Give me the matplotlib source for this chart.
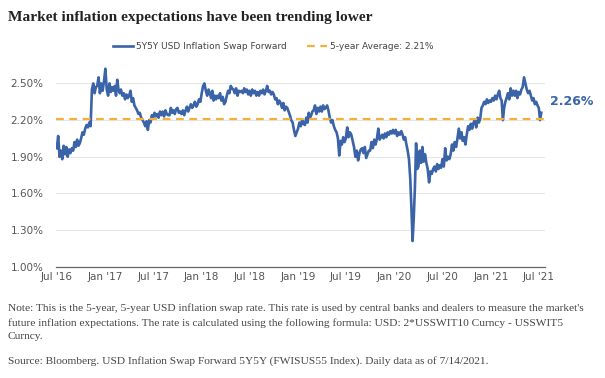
import numpy as np
import pandas as pd
import matplotlib
matplotlib.use("Agg")
import matplotlib.pyplot as plt
import matplotlib.dates as mdates

# monthly readings of the 5Y5Y swap forward (%), several points per month
months = pd.date_range("2016-07-01", "2021-07-01", freq="MS")
vals = [
    [1.97, 2.07, 1.90, 1.95, 1.88, 1.99],          # Jul 16
    [1.92, 1.98, 1.90, 1.96, 1.93, 1.97],
    [1.95, 2.02, 1.98, 2.04, 1.99, 2.01],
    [2.05, 2.10, 2.08, 2.13, 2.16, 2.14],
    [2.18, 2.15, 2.45, 2.50, 2.42, 2.47],
    [2.48, 2.55, 2.42, 2.50, 2.44, 2.52],
    [2.62, 2.45, 2.40, 2.50, 2.43, 2.47],          # Jan 17
    [2.44, 2.48, 2.40, 2.53, 2.45, 2.42],
    [2.45, 2.40, 2.42, 2.37, 2.41, 2.38],
    [2.40, 2.44, 2.35, 2.38, 2.32, 2.30],
    [2.28, 2.25, 2.26, 2.22, 2.20, 2.18],
    [2.15, 2.19, 2.12, 2.20, 2.18, 2.24],
    [2.22, 2.26, 2.23, 2.25, 2.22, 2.27],          # Jul 17
    [2.24, 2.27, 2.23, 2.28, 2.25, 2.24],
    [2.24, 2.30, 2.26, 2.28, 2.25, 2.29],
    [2.30, 2.26, 2.27, 2.25, 2.28, 2.24],
    [2.28, 2.31, 2.27, 2.30, 2.33, 2.30],
    [2.32, 2.35, 2.31, 2.33, 2.37, 2.35],
    [2.42, 2.48, 2.50, 2.44, 2.40, 2.45],          # Jan 18
    [2.42, 2.38, 2.44, 2.36, 2.40, 2.37],
    [2.40, 2.38, 2.42, 2.36, 2.39, 2.33],
    [2.35, 2.40, 2.44, 2.42, 2.48, 2.46],
    [2.45, 2.42, 2.46, 2.40, 2.44, 2.43],
    [2.44, 2.42, 2.46, 2.43, 2.45, 2.41],
    [2.44, 2.40, 2.45, 2.42, 2.44, 2.40],          # Jul 18
    [2.43, 2.40, 2.44, 2.42, 2.45, 2.41],
    [2.44, 2.48, 2.43, 2.44, 2.41, 2.43],
    [2.41, 2.37, 2.38, 2.33, 2.36, 2.34],
    [2.30, 2.34, 2.28, 2.31, 2.30, 2.27],
    [2.24, 2.20, 2.18, 2.12, 2.07, 2.10],
    [2.13, 2.18, 2.15, 2.20, 2.17, 2.16],          # Jan 19
    [2.22, 2.18, 2.26, 2.22, 2.24, 2.27],
    [2.28, 2.32, 2.25, 2.30, 2.27, 2.31],
    [2.27, 2.32, 2.29, 2.30, 2.32, 2.28],
    [2.22, 2.18, 2.20, 2.15, 2.12, 2.10],
    [2.05, 1.91, 2.03, 2.00, 2.06, 2.02],
    [2.05, 2.14, 2.06, 2.10, 2.08, 2.03],          # Jul 19
    [1.98, 1.90, 1.95, 1.87, 1.93, 1.96],
    [1.97, 1.93, 1.98, 1.89, 1.92, 1.95],
    [1.95, 2.02, 1.97, 2.04, 2.00, 2.05],
    [2.13, 2.04, 2.06, 2.08, 2.05, 2.09],
    [2.06, 2.10, 2.08, 2.11, 2.09, 2.12],
    [2.09, 2.12, 2.07, 2.10, 2.08, 2.11],          # Jan 20
    [2.08, 2.04, 2.06, 2.00, 1.95, 1.88],
    [1.72, 1.48, 1.21, 1.40, 1.65, 2.01, 1.80],
    [1.82, 1.95, 1.85, 1.98, 1.86, 1.92],
    [1.85, 1.80, 1.69, 1.78, 1.76, 1.80],
    [1.82, 1.78, 1.84, 1.80, 1.83, 1.81],
    [1.88, 1.82, 1.97, 1.87, 1.90, 1.88],          # Jul 20
    [1.92, 2.00, 1.95, 2.02, 1.98, 2.05],
    [2.13, 2.05, 2.10, 2.03, 2.06, 2.00],
    [2.08, 2.15, 2.12, 2.17, 2.13, 2.18],
    [2.20, 2.14, 2.22, 2.18, 2.21, 2.30],
    [2.32, 2.35, 2.33, 2.37, 2.34, 2.36],
    [2.35, 2.38, 2.36, 2.40, 2.37, 2.41],          # Jan 21
    [2.44, 2.38, 2.36, 2.20, 2.30, 2.35],
    [2.38, 2.42, 2.37, 2.46, 2.40, 2.44],
    [2.40, 2.44, 2.38, 2.43, 2.41, 2.45],
    [2.47, 2.55, 2.50, 2.45, 2.42, 2.44],
    [2.40, 2.36, 2.38, 2.33, 2.35, 2.32],
    [2.30, 2.20, 2.26],                             # Jul 21 (to 7/14)
]
avg = 2.21
last_label = "2.26%"

yticks = [1.00, 1.30, 1.60, 1.90, 2.20, 2.50]
xtick_dates = pd.date_range("2016-07-01", "2021-07-01", freq="6MS")
xtick_labels = ["Jul '16", "Jan '17", "Jul '17", "Jan '18", "Jul '18", "Jan '19",
                "Jul '19", "Jan '20", "Jul '20", "Jan '21", "Jul '21"]

# spread the readings of each month across that month
dates, values = [], []
for m, v in zip(months, vals):
    span = 14 if m == months[-1] else m.days_in_month
    for i, val in enumerate(v):
        dates.append(m + pd.Timedelta(days=span * i / len(v)))
        values.append(val)

blue = "#3a63a8"
gold = "#f2b23a"

fig = plt.figure(figsize=(6.05, 3.78), dpi=100)
ax = fig.add_axes([0.0926, 0.2944, 0.808, 0.5495])

ax.plot(dates, values, color=blue, lw=1.9, label="5Y5Y USD Inflation Swap Forward")
ax.axhline(avg, color=gold, lw=1.6, ls=(0, (3.5, 2.5)), label="5-year Average: 2.21%")

ax.set_ylim(1.0, 2.70)
ax.set_xlim(pd.Timestamp("2016-06-28"), pd.Timestamp("2021-07-24"))
ax.set_yticks(yticks)
ax.set_yticklabels([f"{t:.2f}%" for t in yticks])
ax.set_xticks(xtick_dates)
ax.set_xticklabels(xtick_labels)
ax.tick_params(axis="both", length=0, labelsize=7.5, labelcolor="#555555")
ax.tick_params(axis="y", pad=9)
ax.tick_params(axis="x", pad=4)
ax.grid(axis="y", color="#e6e6e6", lw=0.8)
for s in ["top", "right", "left"]:
    ax.spines[s].set_visible(False)
ax.spines["bottom"].set_color("#666666")
ax.spines["bottom"].set_linewidth(0.9)

ax.annotate(last_label, xy=(dates[-1], 2.35), xytext=(6, 0), textcoords="offset points",
            color=blue, fontsize=9, fontweight="bold", va="center", ha="left",
            annotation_clip=False)

leg = fig.legend(loc="center", bbox_to_anchor=(0.452, 0.876), ncol=2, frameon=False,
                 fontsize=6.5, handlelength=2.2, columnspacing=2.2, handletextpad=0.4)
for t in leg.get_texts():
    t.set_color("#444444")

fig.text(0.013, 0.955, "Market inflation expectations have been trending lower",
         family="Liberation Serif", fontweight="bold", fontsize=11.1, color="#222222",
         va="center", ha="left")

note = ("Note: This is the 5-year, 5-year USD inflation swap rate. This rate is used by central banks and dealers to measure the market's\n"
        "future inflation expectations. The rate is calculated using the following formula: USD: 2*USSWIT10 Curncy - USSWIT5\n"
        "Curncy.")
fig.text(0.013, 0.197, note, family="Liberation Serif", fontsize=8.2, color="#444444",
         va="top", ha="left", linespacing=1.6)
fig.text(0.013, 0.045, "Source: Bloomberg. USD Inflation Swap Forward 5Y5Y (FWISUS55 Index). Daily data as of 7/14/2021.",
         family="Liberation Serif", fontsize=8.2, color="#444444", va="center", ha="left")

fig.savefig("out.png", dpi=100)
